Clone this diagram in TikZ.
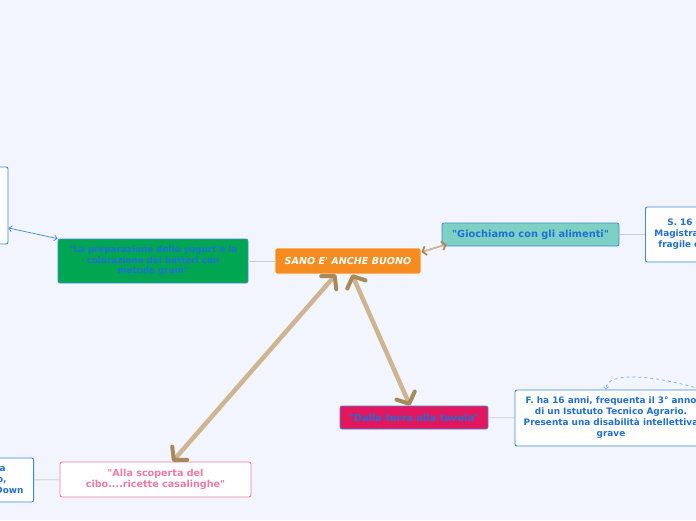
\documentclass[tikz,border=0pt]{standalone}
\usepackage{fontspec}
\setmainfont{DejaVu Sans}[Ligatures=TeXOff]
\usetikzlibrary{positioning,arrows.meta}
\definecolor{bgpaper}{HTML}{F2F5FE}
\definecolor{textblue}{HTML}{1F6FD6}
\definecolor{lineblue}{HTML}{3F88DE}
\definecolor{mapgreen}{HTML}{00A651}
\definecolor{maporange}{HTML}{F68B1F}
\definecolor{mapteal}{HTML}{7ECFC4}
\definecolor{mapred}{HTML}{E3175D}
\definecolor{mappink}{HTML}{F07AA2}
\definecolor{linegray}{HTML}{C9CCD3}
\definecolor{tanlight}{HTML}{CDB592}
\definecolor{tandark}{HTML}{A8895A}

\tikzset{
  topic/.style={rounded corners=2pt, draw=lineblue, line width=0.8pt, font=\bfseries\fontsize{9.8}{11}\selectfont, text=textblue, align=center, inner sep=2pt},
  notebox/.style={rounded corners=2pt, fill=white, draw=lineblue, line width=0.9pt, font=\bfseries\fontsize{8.9}{11}\selectfont, text=textblue, align=center, inner sep=2pt},
  branch/.style={draw=linegray, line width=0.8pt},
  bigarrow/.style={draw=tanlight, line width=4.5pt, line cap=round, {Straight Barb[length=9pt,width=20pt,line width=4pt,round,color=tandark]}-{Straight Barb[length=9pt,width=20pt,line width=4pt,round,color=tandark]}}
}

\begin{document}
\begin{tikzpicture}[x=1pt, y=-1pt]
\clip (0,0) rectangle (696,520);
\fill[bgpaper] (0,0) rectangle (696,520);

\node[notebox, minimum width=68pt, minimum height=77pt] (leftnote) at (-26,205.5) {};
\node[topic, fill=mapgreen, minimum width=190pt, minimum height=44pt, text width=182pt, font=\bfseries\fontsize{8.8}{10.5}\selectfont] (yogurt) at (153,261) {"La preparazione dello yogurt e la\\colorazione dei batteri con\\metodo gram"};
\node[rounded corners=2pt, fill=maporange, draw=white, line width=0.8pt, minimum width=146pt, minimum height=26pt, font=\bfseries\itshape\fontsize{9.6}{11}\selectfont, text=white] (sano) at (348,261) {SANO E' ANCHE BUONO};
\node[topic, fill=mapteal, minimum width=177pt, minimum height=23pt] (giochiamo) at (530.5,234.5) {"Giochiamo con gli alimenti"};
\node[notebox, anchor=west, minimum width=120pt, minimum height=55pt, text width=104pt, align=left, inner xsep=9pt] (snote) at (645,234.5) {\hspace{13pt}S. 16\\Magistra\\\hspace{4pt}fragile e};
\node[topic, fill=mapred, minimum width=148pt, minimum height=23pt] (terra) at (414,417.5) {"Dalla terra alla tavola"};
\node[notebox, minimum width=192pt, minimum height=56pt] (fnote) at (611,418) {F. ha 16 anni, frequenta il 3° anno\\di un Istututo Tecnico Agrario.\\Presenta una disabilità intellettiva\\grave};
\node[notebox, draw=mappink, text=mappink, minimum width=191pt, minimum height=35pt, font=\bfseries\fontsize{9.6}{11.5}\selectfont] (scoperta) at (155.5,479.5) {"Alla scoperta del\\cibo....ricette casalinghe"};
\node[notebox, anchor=east, minimum width=94pt, minimum height=44pt, text width=74pt, align=right, inner xsep=10pt] (dnote) at (34,480) {a\rule{18pt}{0pt}\\o,\rule{17pt}{0pt}\\Down};
\coordinate (fout) at (700,389);

\draw[branch] (yogurt) -- (sano);
\draw[branch] (giochiamo) -- (snote);
\draw[branch] (terra) -- (fnote);
\draw[branch] (scoperta) -- (dnote);
\draw[draw=lineblue, line width=0.7pt, {Straight Barb[length=3pt,width=6pt]}-{Straight Barb[length=3pt,width=6pt]}] (leftnote.east |- 0,228) -- (yogurt.north west);
\draw[bigarrow] ([xshift=-12pt]sano.south) -- ([xshift=17pt]scoperta.north);
\draw[bigarrow] ([xshift=4pt]sano.south) -- ([xshift=-4pt]terra.north);
\draw[draw=tanlight, line width=1.8pt, {Straight Barb[length=3.5pt,width=9pt,color=tandark]}-{Straight Barb[length=3.5pt,width=9pt,color=tandark]}] ([yshift=9pt]sano.east) -- ([xshift=5pt,yshift=2pt]giochiamo.south west);
\draw[draw=lineblue!70, line width=0.7pt, dashed, -{Straight Barb[length=2.5pt,width=5pt]}] (fout) .. controls (650,374) and (606,372) .. ([xshift=-5pt]fnote.north);
\end{tikzpicture}
\end{document}
